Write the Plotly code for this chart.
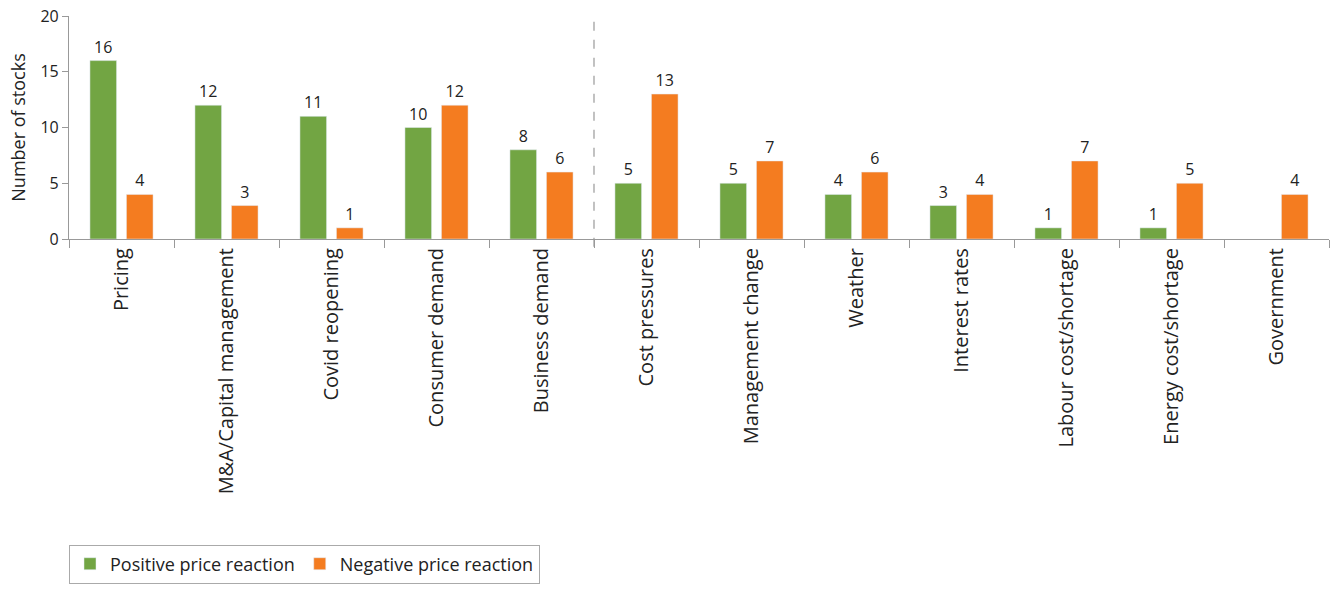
import plotly.graph_objects as go

categories = ["Pricing", "M&A/Capital management", "Covid reopening", "Consumer demand",
              "Business demand", "Cost pressures", "Management change", "Weather",
              "Interest rates", "Labour cost/shortage", "Energy cost/shortage", "Government"]
positive = [16, 12, 11, 10, 8, 5, 5, 4, 3, 1, 1, None]
negative = [4, 3, 1, 12, 6, 13, 7, 6, 4, 7, 5, 4]
y_ticks = [0, 5, 10, 15, 20]

GREEN = "#72A543"
ORANGE = "#F47C20"
FONT = "Open Sans"
TXT = "#222222"

def labels(vals):
    return ["" if v is None else str(v) for v in vals]

fig = go.Figure()
fig.add_trace(go.Bar(x=categories, y=positive, name="Positive price reaction",
                     marker=dict(color=GREEN), text=labels(positive),
                     textposition="outside", cliponaxis=False,
                     textfont=dict(size=16, color=TXT, family=FONT)))
fig.add_trace(go.Bar(x=categories, y=negative, name="Negative price reaction",
                     marker=dict(color=ORANGE), text=labels(negative),
                     textposition="outside", cliponaxis=False,
                     textfont=dict(size=16, color=TXT, family=FONT)))

fig.add_shape(type="line", xref="x", yref="paper", x0=4.5, x1=4.5, y0=-0.035, y1=1,
              line=dict(color="#999999", width=1.2, dash="dash"))

fig.update_layout(
    width=1335, height=591,
    margin=dict(l=69, r=6, t=16, b=352),
    plot_bgcolor="white", paper_bgcolor="white",
    barmode="group", bargap=0.305, bargroupgap=0.27,
    font=dict(family=FONT, size=16, color=TXT),
    showlegend=True,
    legend=dict(orientation="h", x=0.0, y=-1.37, xanchor="left", yanchor="top",
                bordercolor="#aaaaaa", borderwidth=1, font=dict(size=18, color=TXT, family=FONT),
                itemwidth=30, traceorder="normal"),
)
fig.update_xaxes(tickangle=-90, ticks="outside", tickson="boundaries", ticklen=8,
                 tickcolor="#999999", showline=True, linecolor="#999999", linewidth=1.2,
                 tickfont=dict(size=20, color=TXT, family=FONT), showgrid=False,
                 range=[-0.5, 11.5])
fig.update_yaxes(range=[0, 20], tickvals=y_ticks, ticks="outside", ticklen=6,
                 tickcolor="#999999", showline=True, linecolor="#999999", linewidth=1.2,
                 showgrid=False, zeroline=False,
                 tickfont=dict(size=16, color=TXT, family=FONT),
                 title=dict(text="Number of stocks", font=dict(size=18, color=TXT, family=FONT), standoff=10))

fig.write_html("out.html")
